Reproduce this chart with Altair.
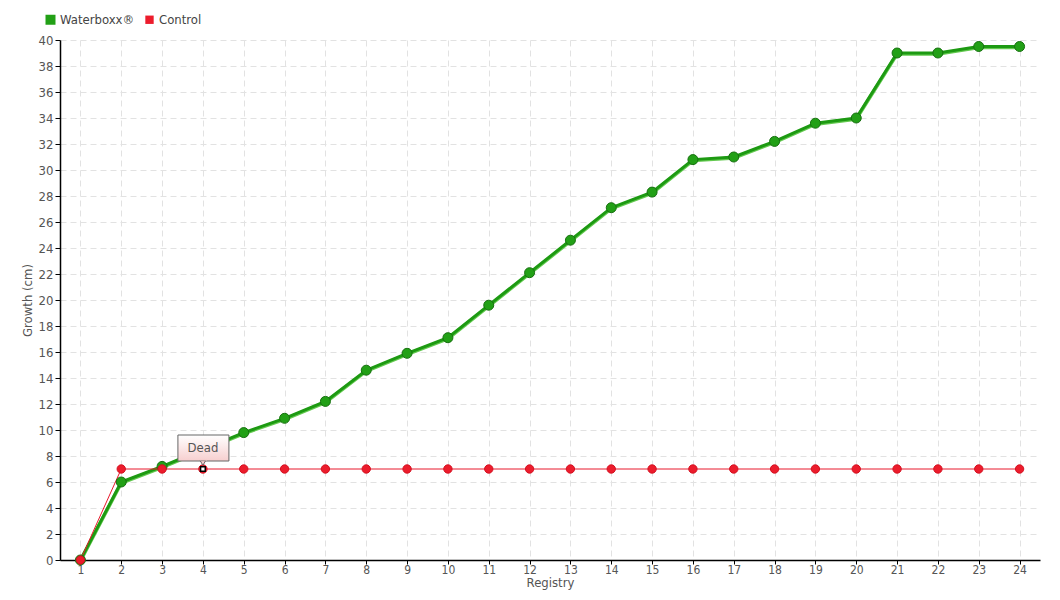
import altair as alt
import pandas as pd

registry = list(range(1, 25))
waterboxx = [0, 6, 7.2, 8.5, 9.8, 10.9, 12.2, 14.6, 15.9, 17.1, 19.6, 22.1, 24.6, 27.1,
             28.3, 30.8, 31.0, 32.2, 33.6, 34.0, 39.0, 39.0, 39.5, 39.5]
control = [0] + [7] * 23
series_names = ["Waterboxx®", "Control"]
note_registry = [4]
note_value = [7]
note_text = ["Dead"]
y_ticks = list(range(0, 41, 2))

FONT = "'DejaVu Sans Condensed', 'DejaVu Sans', sans-serif"

green_df = pd.DataFrame({"Registry": registry, "Growth": waterboxx, "Series": series_names[0]})
red_df = pd.DataFrame({"Registry": registry, "Growth": control, "Series": series_names[1]})
all_df = pd.concat([green_df, red_df], ignore_index=True)
note_df = pd.DataFrame({"Registry": note_registry, "Growth": note_value, "Label": note_text})

xscale = alt.Scale(type="point", padding=0.5)
yscale = alt.Scale(domain=[0, 40])

x_axis = alt.Axis(title="Registry", labelAngle=0, grid=True, tickSize=4,
                  labelPadding=0, titlePadding=1, labelOverlap=False, labelFontSize=12)
y_axis = alt.Axis(title="Growth (cm)", values=y_ticks, grid=True,
                  tickSize=5, labelPadding=2, titlePadding=4, labelOverlap=False)
x_enc = alt.X("Registry:O", scale=xscale, sort=registry, axis=x_axis)
y_enc = alt.Y("Growth:Q", scale=yscale, axis=y_axis)

green_shadow = alt.Chart(green_df).mark_line(color="#63c94f", strokeWidth=3.5, yOffset=1).encode(
    x=x_enc, y=y_enc)
green_line = alt.Chart(green_df).mark_line(color="#1d9a12", strokeWidth=3).encode(
    x=x_enc, y=y_enc)
red_line = alt.Chart(red_df).mark_line(color="#e8192c", strokeWidth=1).encode(
    x=x_enc, y=y_enc)

points = alt.Chart(all_df).mark_point(filled=True, opacity=1, strokeWidth=1).encode(
    x=x_enc, y=y_enc,
    color=alt.Color("Series:N", sort=series_names,
                    scale=alt.Scale(domain=series_names, range=["#22a016", "#ec1c2c"]),
                    legend=alt.Legend(title=None, orient="none", legendX=-16, legendY=-27,
                                      direction="horizontal", symbolType="square",
                                      symbolSize=36, symbolStrokeWidth=0, labelFontSize=13,
                                      labelColor="#444", labelFont=FONT, columnPadding=8,
                                      symbolOffset=0, labelOffset=3)),
    stroke=alt.Stroke("Series:N", scale=alt.Scale(domain=series_names, range=["#177010", "#d41020"]),
                      legend=None),
    size=alt.Size("Series:N", scale=alt.Scale(domain=series_names, range=[100, 70]), legend=None),
)

box = alt.Chart(note_df).mark_rect(
    fill=alt.Gradient(gradient="linear", x1=0, y1=0, x2=0, y2=1,
                      stops=[alt.GradientStop(color="#ffffff", offset=0),
                             alt.GradientStop(color="#f7cfcf", offset=1)]),
    stroke="#666", strokeWidth=1, xOffset=-25, x2Offset=26, yOffset=-34, y2Offset=-8,
).encode(x=x_enc, x2="Registry:O", y=y_enc, y2="Growth:Q")

pointer = alt.Chart(note_df).mark_point(
    shape="triangle-down", filled=True, fill="#f7cfcf", stroke="#666", strokeWidth=1,
    size=30, yOffset=-6, opacity=1,
).encode(x=x_enc, y=y_enc)

box_cover = alt.Chart(note_df).mark_rect(
    fill="#f7cfcf", xOffset=-3, x2Offset=4, yOffset=-10, y2Offset=-8.5,
).encode(x=x_enc, x2="Registry:O", y=y_enc, y2="Growth:Q")

note_text_layer = alt.Chart(note_df).mark_text(
    font=FONT, fontSize=13, color="#555", yOffset=-21,
).encode(x=x_enc, y=y_enc, text="Label:N")

marker = alt.Chart(note_df).mark_point(
    shape="square", filled=True, fill="#ffffff", stroke="#000", strokeWidth=1.5, size=22, opacity=1,
).encode(x=x_enc, y=y_enc)

chart = alt.layer(
    green_shadow, green_line, red_line, points, marker, box, pointer, box_cover, note_text_layer
).properties(
    width=980, height=520,
    autosize=alt.AutoSizeParams(type="none"),
    padding={"left": 52, "top": 32, "right": 12, "bottom": 40},
).configure_view(stroke=None).configure_axis(
    labelFont=FONT, titleFont=FONT, labelFontSize=13, titleFontSize=13,
    labelColor="#555", titleColor="#555", titleFontWeight="normal",
    domainColor="#000", domainWidth=1.5, tickColor="#000",
    gridColor="#e2e2e2", gridDash=[6, 4], gridWidth=1,
)

chart.save("out.html", embed_options={"renderer": "svg", "actions": False})
